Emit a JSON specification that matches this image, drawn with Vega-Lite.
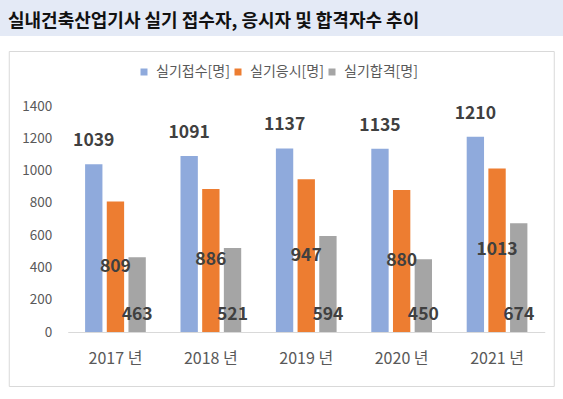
{
  "$schema": "https://vega.github.io/schema/vega-lite/v6.json",
  "padding": 0,
  "spacing": 14,
  "center": true,
  "background": "white",
  "config": {"font": "Noto Sans CJK KR"},
  "datasets": {
    "counts": [
      {"year": "2017 년", "series": "실기접수[명]", "value": 1039},
      {"year": "2017 년", "series": "실기응시[명]", "value": 809},
      {"year": "2017 년", "series": "실기합격[명]", "value": 463},
      {"year": "2018 년", "series": "실기접수[명]", "value": 1091},
      {"year": "2018 년", "series": "실기응시[명]", "value": 886},
      {"year": "2018 년", "series": "실기합격[명]", "value": 521},
      {"year": "2019 년", "series": "실기접수[명]", "value": 1137},
      {"year": "2019 년", "series": "실기응시[명]", "value": 947},
      {"year": "2019 년", "series": "실기합격[명]", "value": 594},
      {"year": "2020 년", "series": "실기접수[명]", "value": 1135},
      {"year": "2020 년", "series": "실기응시[명]", "value": 880},
      {"year": "2020 년", "series": "실기합격[명]", "value": 450},
      {"year": "2021 년", "series": "실기접수[명]", "value": 1210},
      {"year": "2021 년", "series": "실기응시[명]", "value": 1013},
      {"year": "2021 년", "series": "실기합격[명]", "value": 674}
    ]
  },
  "vconcat": [
    {
      "width": 563,
      "height": 36,
      "view": {"fill": "#E4EAF6", "stroke": null},
      "title": {
        "text": "실내건축산업기사 실기 접수자, 응시자 및 합격자수 추이",
        "anchor": "start",
        "frame": "group",
        "offset": -31,
        "dx": 8,
        "fontSize": 18,
        "fontWeight": "bold",
        "color": "#111111",
        "font": "Noto Sans CJK KR"
      },
      "data": {"values": [{"a": 1}]},
      "mark": {"type": "point", "opacity": 0},
      "encoding": {}
    },
    {
      "width": 545,
      "height": 335,
      "view": {"stroke": "#D9D9D9", "fill": "white"},
      "data": {"name": "counts"},
      "encoding": {
        "x": {
          "field": "year",
          "type": "nominal",
          "sort": null,
          "scale": {"range": [59, 536], "paddingInner": 0, "paddingOuter": 0},
          "axis": {
            "title": null,
            "labelAngle": 0,
            "orient": "bottom",
            "offset": -54,
            "ticks": false,
            "tickSize": 0,
            "domainColor": "#D9D9D9",
            "labelPadding": 18,
            "labelFontSize": 16,
            "labelColor": "#595959"
          }
        },
        "xOffset": {
          "field": "series",
          "type": "nominal",
          "scale": {"domain": ["실기접수[명]", "실기응시[명]", "실기합격[명]"], "paddingInner": 0.2, "paddingOuter": 0.8}
        }
      },
      "layer": [
        {
          "mark": {"type": "bar"},
          "encoding": {
            "y": {
              "field": "value",
              "type": "quantitative",
              "scale": {"domain": [0, 1400], "range": [281, 55], "nice": false},
              "axis": {
                "title": null,
                "values": [0, 200, 400, 600, 800, 1000, 1200, 1400],
                "format": "d",
                "domain": false,
                "ticks": false,
                "tickSize": 0,
                "grid": false,
                "offset": -43,
                "labelPadding": 0,
                "labelFontSize": 13.5,
                "labelColor": "#595959"
              }
            },
            "color": {
              "field": "series",
              "type": "nominal",
              "scale": {"domain": ["실기접수[명]", "실기응시[명]", "실기합격[명]"], "range": ["#8FAADC", "#ED7D31", "#A5A5A5"]},
              "legend": {
                "orient": "none",
                "legendX": 137,
                "legendY": 65,
                "direction": "horizontal",
                "title": null,
                "symbolType": "square",
                "symbolSize": 49,
                "symbolStrokeWidth": 0,
                "labelFontSize": 14,
                "labelColor": "#595959",
                "columnPadding": 1,
                "labelOffset": 5
              }
            }
          }
        },
        {
          "transform": [{"filter": "datum.series == '실기접수[명]'"}],
          "mark": {"type": "text", "baseline": "middle", "dy": -23, "fontSize": 17.5, "fontWeight": "bold", "color": "#404040"},
          "encoding": {
            "y": {"field": "value", "type": "quantitative", "scale": {"domain": [0, 1400], "range": [281, 55], "nice": false}, "axis": null},
            "text": {"field": "value", "type": "quantitative"}
          }
        },
        {
          "transform": [{"filter": "datum.series == '실기응시[명]'"}],
          "mark": {"type": "text", "baseline": "middle", "fontSize": 17.5, "fontWeight": "bold", "color": "#404040"},
          "encoding": {
            "y": {"field": "value", "type": "quantitative", "scale": {"domain": [0, 2800], "range": [281, 55], "nice": false}, "axis": null},
            "text": {"field": "value", "type": "quantitative"}
          }
        },
        {
          "transform": [{"filter": "datum.series == '실기합격[명]'"}],
          "mark": {"type": "text", "baseline": "middle", "dy": -17.5, "fontSize": 17.5, "fontWeight": "bold", "color": "#404040"},
          "encoding": {
            "y": {"datum": 0, "type": "quantitative", "scale": {"domain": [0, 1400], "range": [281, 55], "nice": false}, "axis": null},
            "text": {"field": "value", "type": "quantitative"}
          }
        }
      ],
      "resolve": {"scale": {"y": "independent"}}
    }
  ]
}
